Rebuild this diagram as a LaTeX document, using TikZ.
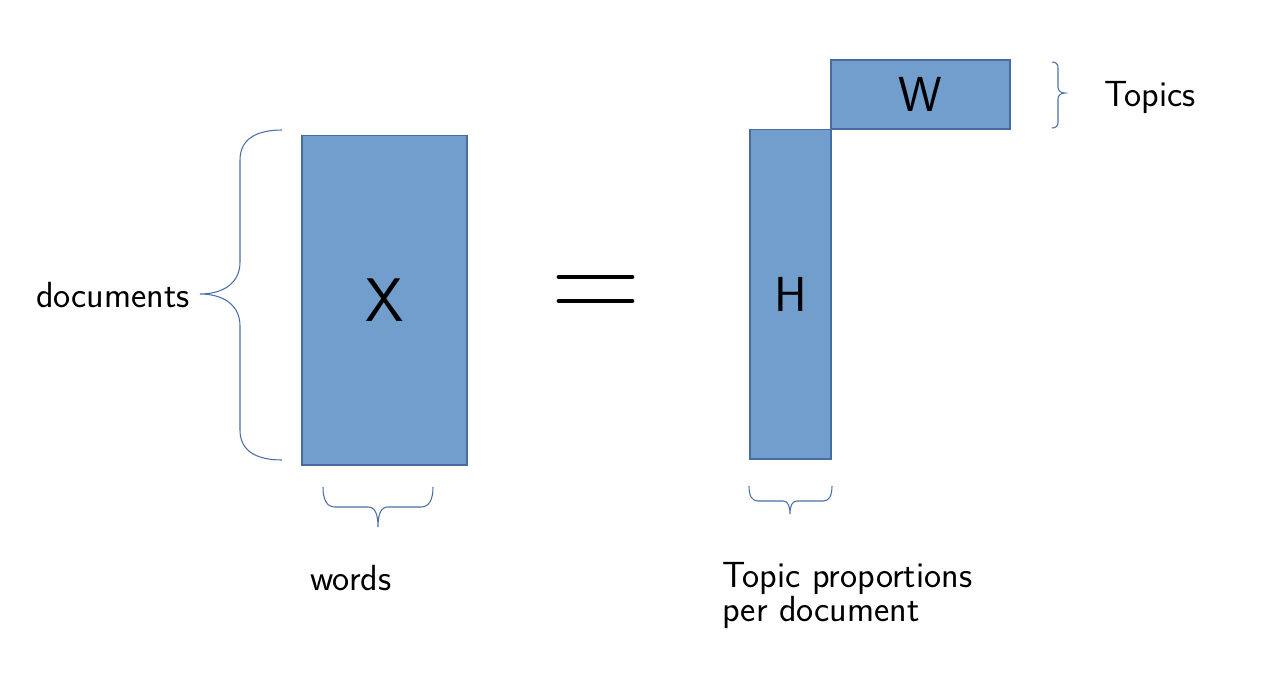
\documentclass[tikz,border=0pt]{standalone}
\usepackage{tikz}

\tikzset{
  matbox/.style={draw=matedge, fill=matfill, line width=0.6pt, inner sep=0pt, font=\sffamily},
  lbl/.style={font=\sffamily\fontsize{20.7}{19.6}\selectfont, inner sep=0pt},
  brace/.style={draw=braceblue, line width=0.6pt}
}
\definecolor{matfill}{RGB}{114,158,206}
\definecolor{matedge}{RGB}{70,108,160}
\definecolor{braceblue}{RGB}{74,110,165}

\begin{document}
\begin{tikzpicture}[x=0.02cm, y=-0.02cm]
\useasboundingbox (0,0) rectangle (1276,684);

% matrices
\node[matbox, minimum width=3.3cm, minimum height=6.6cm, font=\sffamily\fontsize{35}{35}\selectfont] (X) at (384.5,300) {X};
\node[matbox, minimum width=1.62cm, minimum height=6.6cm, font=\sffamily\fontsize{28}{28}\selectfont] (H) at (790.5,294) {H};
\node[matbox, minimum width=3.58cm, minimum height=1.38cm, font=\sffamily\fontsize{28}{28}\selectfont] (W) at (920.5,94.5) {W};

% equals sign
\draw[line width=2.8pt, line cap=round] (559,277) -- (632,277);
\draw[line width=2.8pt, line cap=round] (559,301) -- (632,301);

% braces
\draw[brace] (282,130) .. controls (258,130) and (240,138) .. (240,160) -- (240,262)
  .. controls (240,284) and (222,294) .. (200,294)
  .. controls (222,294) and (240,304) .. (240,326) -- (240,430)
  .. controls (240,452) and (258,460) .. (282,460);
\draw[brace] (323,487) .. controls (323,500) and (327,507) .. (335,507) -- (368,507)
  .. controls (375,507) and (378,514) .. (378,527)
  .. controls (378,514) and (381,507) .. (388,507) -- (421,507)
  .. controls (429,507) and (433,500) .. (433,487);
\draw[brace] (749,486) .. controls (749,496) and (752,501) .. (758,501) -- (783,501)
  .. controls (788,501) and (790,506) .. (790,514)
  .. controls (790,506) and (792,501) .. (797,501) -- (823,501)
  .. controls (829,501) and (832,496) .. (832,486);
\draw[brace] (1052,62) .. controls (1056,62) and (1058,64) .. (1058,68) -- (1058,87)
  .. controls (1058,91) and (1061,93) .. (1065,93)
  .. controls (1061,93) and (1058,95) .. (1058,99) -- (1058,122)
  .. controls (1058,126) and (1056,128) .. (1052,128);

% labels
\node[lbl] (docs) at (113,295) {documents};
\node[lbl] (words) at (351,578) {words};
\node[lbl, align=left, anchor=north west] (props) at (722,562) {Topic proportions\\per document};
\node[lbl] (topics) at (1150,97) {Topics};
\end{tikzpicture}
\end{document}
